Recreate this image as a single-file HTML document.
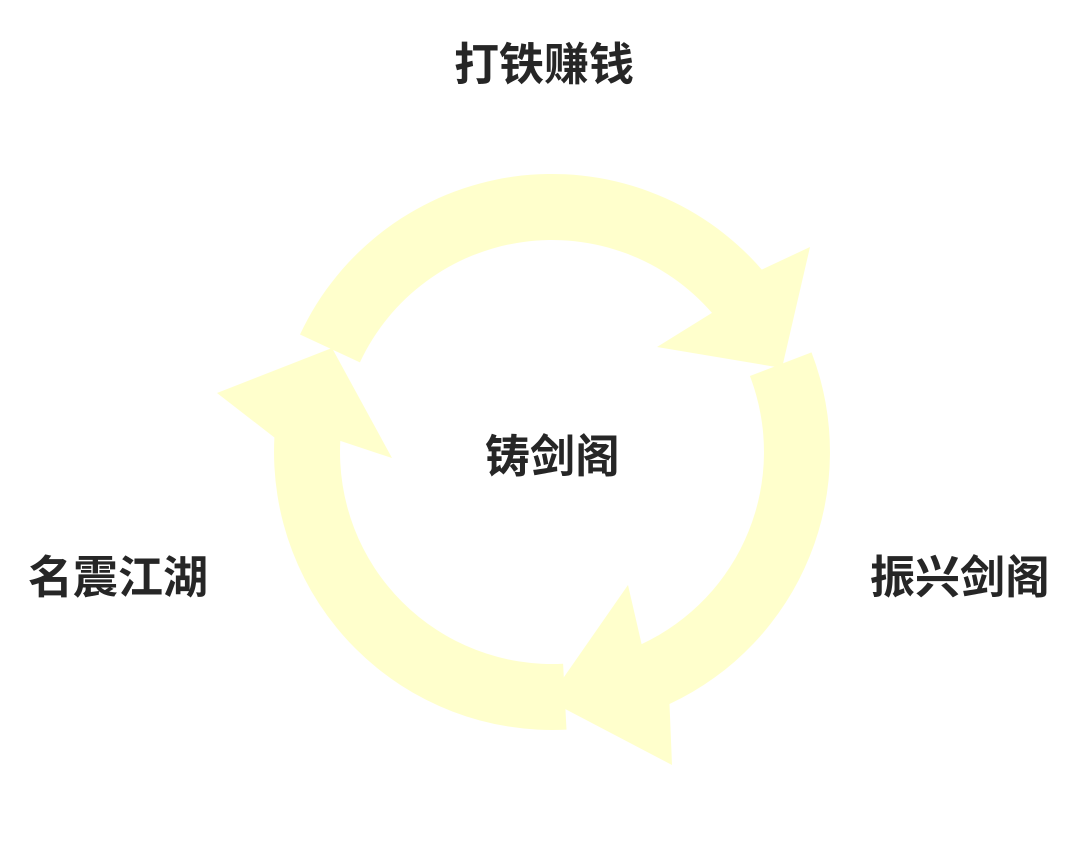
<!DOCTYPE html>
<html><head><meta charset="utf-8"><style>
html,body{margin:0;padding:0;background:#fff;}
body{width:1080px;height:841px;position:relative;overflow:hidden;font-family:"Liberation Sans","Noto Sans CJK SC",sans-serif;}
.t{position:absolute;font-size:45px;font-weight:bold;color:#262626;white-space:nowrap;line-height:1;}
</style></head><body>
<svg width="1080" height="841" style="position:absolute;left:0;top:0">
<g fill="#FFFFCC">
<path d="M300,334.5 A278 278 0 0 1 761.8,269.6 L810,247 L782,368 L657,347 L712,312.9 A212 212 0 0 0 359.9,362.4 Z"/>
<path d="M811.5,352.4 A278 278 0 0 1 669.5,704 L672,765 L548,700 L628,585 L641.6,644.1 A212 212 0 0 0 749.9,376 Z"/>
<path d="M566.5,729.6 A278 278 0 0 1 274.4,437.5 L217,393 L332,348 L392,458 L340.3,440.9 A212 212 0 0 0 563.1,663.7 Z"/>
</g>
</svg>
<div class="t" style="left:454px;top:42px">打铁赚钱</div>
<div class="t" style="left:485px;top:434px">铸剑阁</div>
<div class="t" style="left:28px;top:555px">名震江湖</div>
<div class="t" style="left:870px;top:555px">振兴剑阁</div>
</body></html>
